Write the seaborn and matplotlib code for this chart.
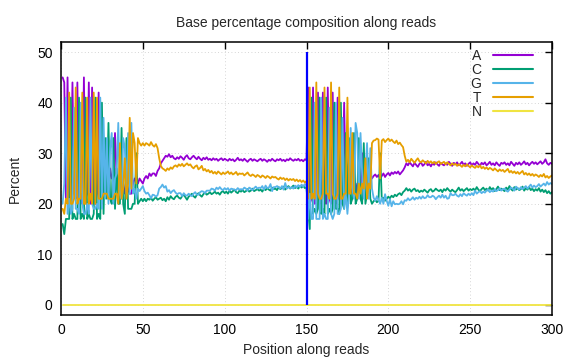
import matplotlib
matplotlib.use("Agg")
import matplotlib.pyplot as plt
import pandas as pd
import seaborn as sns
from matplotlib.lines import Line2D

# ---------------- data (read 1 = positions 1-150, read 2 = 151-300) ----------------
a_read1 = [45, 44, 21, 45, 20, 21, 44, 22, 21, 44,
           20, 22, 20, 45, 21, 22, 44, 20, 43, 21,
           20, 22, 42, 21, 20, 23, 24, 24, 23, 27,
           25, 26, 34, 25, 24, 26, 23, 24, 22, 24,
           23, 22, 22, 24, 25, 25, 24, 25, 24.5, 24,
           25, 25.5, 25, 26, 25.5, 26, 26, 25.5, 26.5, 27,
           28, 28.5, 29, 29.5, 29.3, 29.8, 29.2, 29.5, 29, 28.8,
           29.2, 28.9, 29.4, 29.1, 28.7, 29.3, 29.6, 29, 28.8, 29.2,
           29.5, 29.1, 28.8, 29.3, 28.9, 28.6, 29.1, 28.8, 29.2, 28.7,
           28.9, 28.6, 29.0, 28.7, 28.9, 28.5, 28.8, 29.0, 28.6, 28.9,
           28.7, 28.5, 28.9, 28.6, 28.8, 28.4, 28.7, 29.1, 28.6, 28.8,
           28.5, 28.9, 28.6, 28.3, 28.7, 28.9, 28.5, 28.8, 28.6, 28.4,
           28.7, 28.9, 28.5, 28.8, 28.6, 28.3, 28.7, 28.5, 28.9, 28.6,
           28.4, 28.8, 28.6, 28.9, 28.5, 28.7, 28.4, 28.8, 28.6, 29.0,
           28.7, 28.5, 28.8, 28.6, 28.9, 28.5, 28.7, 28.4, 28.8, 28.6]
c_read1 = [16, 14, 17, 17, 17, 41, 17, 18, 17, 17,
           41, 17, 18, 17, 41, 17, 18, 17, 17, 18,
           41, 17, 18, 17, 40, 18, 33, 21, 36, 21,
           20, 33, 19, 27, 20, 20, 35, 20, 18, 33,
           19, 19, 19, 20, 20, 30, 20, 20.5, 21, 20.5,
           21, 20.5, 21, 20.8, 21.2, 20.6, 21, 21.3, 20.8, 21,
           21.2, 20.7, 21, 20.5, 21.3, 20.8, 21.5, 21.1, 20.9, 21.4,
           21.6, 21.2, 21, 21.5, 21.8, 21.3, 20.8, 21.4, 21.7, 22,
           21.5, 21.2, 21.8, 22.1, 21.7, 21.4, 21.9, 22.2, 21.8, 22.0,
           22.3, 21.9, 22.1, 22.4, 22.0, 22.2, 21.8, 22.3, 22.5, 22.1,
           22.4, 22.0, 22.6, 22.2, 22.5, 22.8, 22.3, 22.1, 22.6, 22.4,
           22.7, 22.3, 22.5, 22.9, 22.4, 22.6, 23.0, 22.5, 22.7, 22.9,
           22.6, 22.8, 22.4, 23.0, 22.7, 23.1, 22.8, 22.6, 23.2, 22.9,
           23.0, 22.7, 23.3, 22.9, 23.1, 23.4, 22.8, 23.2, 23.5, 23.0,
           23.3, 23.6, 23.1, 23.4, 23.0, 23.5, 23.2, 23.6, 23.1, 23.3]
g_read1 = [20, 24, 41, 18, 21, 18, 19, 39, 19, 19,
           18, 40, 20, 18, 18, 20, 18, 41, 20, 19,
           19, 20, 19, 41, 19, 37, 21, 33, 20, 31,
           34, 20, 25, 26, 36, 22, 21, 33, 31, 22,
           34, 22, 36, 22, 23, 21, 23, 22.5, 23, 23.5,
           22.5, 22, 22.2, 21.7, 21.1, 21.8, 21.7, 21.4, 21.7, 23,
           23.3, 23.8, 23.2, 23.5, 22.4, 22.7, 22.1, 22.5, 22.7, 22.2,
           21.9, 22.1, 22.1, 21.5, 22.1, 21.7, 21.6, 22, 21.7, 21.5,
           22, 22.3, 21.8, 21.8, 22.3, 22.5, 22.4, 22.1, 22.6, 22.6,
           22.6, 23.0, 22.9, 22.6, 23.2, 22.9, 23.3, 22.9, 22.7, 23.1,
           22.8, 23.1, 22.6, 23.0, 22.9, 22.8, 22.7, 23.1, 22.8, 22.9,
           22.8, 23.2, 23.0, 22.6, 23.2, 23.0, 22.7, 23.1, 23.4, 23.0,
           23.2, 23.1, 23.5, 22.8, 23.6, 23.1, 23.2, 23.9, 22.5, 23.3,
           23.3, 23.5, 23.3, 23.0, 23.5, 22.8, 24.1, 23.0, 23.3, 23.1,
           23.3, 23.0, 23.6, 23.2, 23.7, 23.3, 23.8, 23.4, 23.9, 23.6]
t_read1 = [19, 18, 21, 20, 42, 20, 20, 21, 43, 20,
           21, 21, 42, 20, 20, 41, 20, 22, 20, 42,
           20, 41, 21, 21, 21, 22, 22, 22, 21, 21,
           21, 21, 22, 22, 20, 32, 21, 23, 29, 21,
           24, 37, 23, 34, 32, 24, 33, 32, 31.5, 32,
           31.5, 32, 31.8, 31.5, 32.2, 31.6, 31.3, 31.8, 31, 29,
           27.5, 27, 26.8, 26.5, 27, 26.7, 27.2, 26.9, 27.4, 27.6,
           27.3, 27.8, 27.5, 27.9, 27.4, 27.7, 28.0, 27.6, 27.8, 27.3,
           27.0, 27.4, 27.6, 26.8, 27.1, 27.5, 26.6, 26.9, 26.4, 26.7,
           26.2, 26.5, 26.0, 26.3, 25.9, 26.4, 26.1, 25.8, 26.2, 25.9,
           26.1, 26.4, 25.9, 26.2, 25.8, 26.0, 26.3, 25.7, 26.0, 25.9,
           26.0, 25.6, 25.9, 26.2, 25.7, 25.5, 25.8, 25.6, 25.3, 25.7,
           25.5, 25.2, 25.6, 25.4, 25.1, 25.5, 25.3, 25.0, 25.4, 25.2,
           25.3, 25.0, 24.8, 25.2, 24.9, 25.1, 24.7, 25.0, 24.6, 24.9,
           24.7, 24.9, 24.5, 24.8, 24.4, 24.7, 24.3, 24.6, 24.2, 24.5]

a_read2 = [43, 20, 21, 43, 20, 21, 42, 21, 20, 42,
           21, 20, 43, 21, 20, 42, 21, 20, 41, 21,
           20, 22, 40, 22, 21, 23, 23, 22, 23, 22,
           24, 22, 23, 30, 24, 25, 25, 26, 25, 25,
           25.5, 25.8, 25.3, 25.7, 25, 25.5, 26, 25.3, 25.8, 26.1,
           25.6, 26.2, 25.9, 26.3, 26.0, 26.4, 25.8, 26.2, 26.6, 27.2,
           28.0, 27.6, 28.2, 27.8, 27.4, 28.1, 27.7, 27.3, 27.9, 28.2,
           27.5, 27.8, 28.3, 27.6, 27.9, 27.4, 28.0, 27.7, 28.2, 27.8,
           27.5, 28.1, 27.8, 27.6, 28.0, 27.7, 28.3, 27.9, 27.5, 28.1,
           27.8, 28.2, 27.6, 27.9, 28.3, 27.7, 28.0, 27.5, 27.9, 28.2,
           27.6, 28.0, 27.7, 28.3, 27.9, 27.5, 28.1, 27.8, 28.2, 27.6,
           27.9, 28.3, 27.7, 28.0, 27.6, 28.2, 27.8, 27.5, 28.1, 27.9,
           28.2, 27.7, 28.0, 27.6, 28.3, 27.9, 27.5, 28.1, 27.8, 28.2,
           27.7, 28.0, 28.4, 27.8, 28.1, 27.6, 28.0, 28.3, 27.9, 28.2,
           27.8, 28.1, 28.4, 27.9, 28.2, 28.8, 28.0, 27.7, 28.1, 27.9]
c_read2 = [19, 15, 41, 18, 19, 18, 19, 41, 18, 19,
           18, 41, 18, 19, 18, 19, 40, 19, 19, 18,
           40, 20, 19, 34, 20, 33, 20, 21, 34, 20,
           21, 33, 21, 20, 32, 20, 22, 29, 21, 20,
           20.5, 20.8, 20.3, 20.6, 30, 20.8, 21.2, 20.6, 21.0, 21.4,
           21.1, 21.6, 21.3, 21.8, 21.5, 21.9, 22.1, 21.7, 22.3, 22.6,
           23.1, 22.6, 22.9, 22.4, 22.8, 23.0, 22.5, 22.7, 22.3, 22.6,
           22.4, 22.8, 22.5, 22.2, 22.7, 22.9, 22.4, 22.6, 23.0, 22.7,
           22.5, 22.8, 22.3, 22.9, 22.6, 23.1, 22.7, 22.4, 22.8, 22.5,
           22.3, 22.7, 23.2, 22.6, 22.9, 22.5, 22.8, 23.1, 22.6, 22.9,
           22.7, 23.0, 22.6, 23.3, 22.8, 22.5, 22.9, 23.2, 22.7, 23.0,
           22.6, 23.3, 22.8, 23.1, 22.5, 22.9, 23.4, 22.7, 23.0, 22.8,
           22.5, 23.2, 22.8, 23.5, 22.9, 22.6, 23.3, 22.8, 23.1, 22.7,
           22.9, 23.4, 22.6, 23.1, 22.8, 23.3, 22.7, 23.0, 22.5, 22.9,
           22.6, 23.1, 22.4, 22.8, 22.3, 22.7, 22.1, 22.5, 22.0, 22.3]
g_read2 = [17, 22, 17, 17, 40, 17, 17, 17, 41, 17,
           18, 17, 17, 39, 18, 17, 18, 40, 18, 18,
           19, 37, 19, 22, 18, 22, 35, 23, 21, 36,
           34, 21, 34, 26, 21, 26, 32, 21, 31, 23,
           21.2, 20.6, 21.5, 20.8, 20, 21.2, 20.0, 21.9, 20.6, 19.6,
           20.9, 19.5, 20.5, 19.9, 20.0, 19.9, 20.0, 20.5, 19.9, 20.7,
           20.6, 21.1, 20.7, 20.9, 21.3, 20.8, 21.2, 21.0, 21.4, 21.0,
           21.5, 21.1, 21.2, 21.7, 21.3, 21.3, 21.6, 21.4, 20.9, 21.3,
           21.6, 21.2, 21.8, 21.2, 21.6, 21.0, 21.1, 22.1, 21.7, 21.7,
           22.0, 21.6, 21.4, 21.9, 21.5, 22.1, 21.8, 21.6, 22.0, 21.7,
           22.1, 21.7, 22.6, 22.0, 22.3, 22.5, 22.1, 22.4, 22.2, 22.6,
           22.8, 22.3, 22.6, 22.4, 22.9, 22.5, 22.7, 23.1, 22.6, 22.9,
           23.0, 22.6, 22.4, 22.8, 23.2, 23.0, 22.6, 23.4, 23.1, 22.8,
           23.3, 22.9, 23.2, 23.5, 23.0, 23.4, 23.8, 23.2, 23.6, 23.3,
           23.5, 23.9, 23.4, 23.7, 24.0, 23.6, 24.3, 23.8, 24.1, 23.9]
t_read2 = [21, 43, 21, 22, 21, 44, 22, 21, 21, 22,
           43, 22, 22, 21, 44, 22, 21, 21, 22, 43,
           21, 21, 22, 22, 41, 22, 22, 34, 22, 22,
           21, 24, 22, 24, 23, 29, 21, 24, 23, 32,
           32.5, 32.6, 32.9, 32.7, 25, 32.5, 32.8, 32.2, 32.6, 32.9,
           32.4, 32.7, 32.3, 32.0, 32.5, 31.8, 32.1, 31.6, 31.2, 29.5,
           28.3, 28.7, 28.2, 28.9, 28.5, 28.1, 28.6, 29.0, 28.4, 28.2,
           28.6, 28.3, 28.0, 28.5, 28.1, 28.4, 28.0, 28.3, 27.9, 28.2,
           28.4, 27.9, 28.1, 28.3, 27.8, 28.2, 27.9, 27.6, 28.0, 27.7,
           27.9, 27.5, 27.8, 27.6, 27.3, 27.7, 27.4, 27.8, 27.5, 27.2,
           27.6, 27.3, 27.1, 27.5, 27.2, 27.6, 27.0, 27.3, 26.9, 27.2,
           26.8, 27.1, 26.9, 26.6, 27.0, 26.7, 26.4, 26.8, 26.5, 26.7,
           26.3, 26.6, 26.9, 26.2, 26.5, 26.1, 26.4, 26.0, 26.3, 25.9,
           26.2, 26.5, 25.8, 26.1, 25.7, 26.0, 25.6, 25.9, 25.5, 25.8,
           25.6, 25.3, 25.7, 25.4, 25.9, 25.2, 25.5, 25.1, 25.4, 25.6]
n_pct = [0.0] * 300

bases = ["A", "C", "G", "T", "N"]
colors = ["#9400D3", "#009E73", "#56B4E9", "#E69F00", "#F0E442"]
read_boundary = 150
boundary_top = 50

# ---------------- build long table ----------------
positions = list(range(1, 301))
series = {
    "A": a_read1 + a_read2,
    "C": c_read1 + c_read2,
    "G": g_read1 + g_read2,
    "T": t_read1 + t_read2,
    "N": n_pct,
}
rows = []
for b in bases:
    for p, v in zip(positions, series[b]):
        rows.append((p, v, b))
df = pd.DataFrame(rows, columns=["position", "percent", "base"])

# ---------------- plot ----------------
sns.set_theme(style="white")
plt.rcParams["font.family"] = ["Liberation Sans", "DejaVu Sans"]

fig = plt.figure(figsize=(5.76, 3.6), dpi=100)
ax = fig.add_axes([61 / 576, 1 - 315 / 360, 491 / 576, 273 / 360])

sns.lineplot(data=df, x="position", y="percent", hue="base", hue_order=bases,
             palette=colors, estimator=None, sort=False, linewidth=1.3,
             legend=False, ax=ax)

ax.vlines(read_boundary, 0, boundary_top, color="#0000FF", linewidth=1.6, zorder=5)

ax.set_xlim(0, 300)
ax.set_ylim(-2, 52)
ax.set_xticks(range(0, 301, 50))
ax.set_yticks(range(0, 51, 10))
ax.grid(True, color="#c8c8c8", linestyle=(0, (1, 3)), linewidth=0.6)
ax.tick_params(direction="in", length=5, width=1, top=True, right=True,
               labelsize=10, colors="black", pad=6)
for s in ax.spines.values():
    s.set_visible(True)
    s.set_color("black")
    s.set_linewidth(1.1)

ax.set_title("Base percentage composition along reads", fontsize=10, pad=11)
ax.set_xlabel("Position along reads", fontsize=10, labelpad=4)
ax.set_ylabel("Percent", fontsize=10, labelpad=11)

handles = [Line2D([0], [0], color=c, lw=1.5) for c in colors]
ax.legend(handles, bases, loc="upper right", bbox_to_anchor=(0.961, 0.975),
          frameon=False, markerfirst=False, handlelength=2.9, handletextpad=0.8,
          labelspacing=0.0, fontsize=10, borderpad=0, borderaxespad=0)

fig.savefig("out.png", dpi=100)
